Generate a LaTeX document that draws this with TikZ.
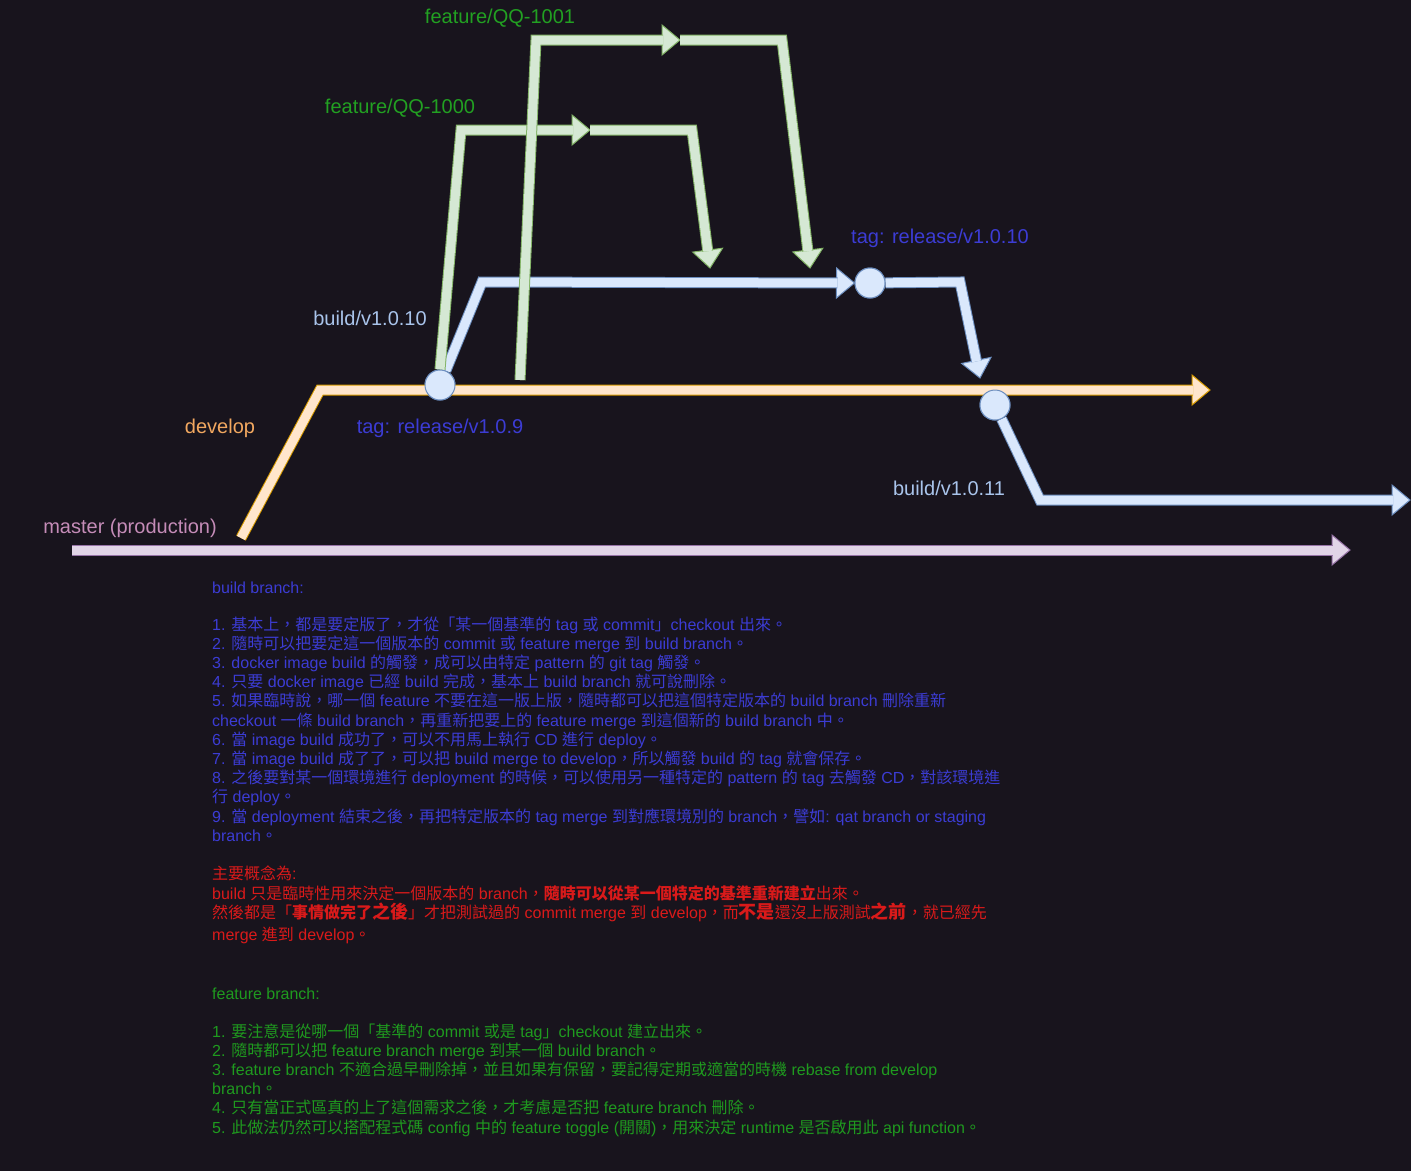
\documentclass[tikz,border=0pt]{standalone}
\usepackage{fontspec}
\setmainfont{Liberation Sans}
\newfontfamily\cjk{Noto Sans CJK TC}
\usetikzlibrary{calc}
% automatic switch to the CJK font for CJK characters
\newXeTeXintercharclass\cjkclass
\newcount\cjkc
\cjkc="4E00 \loop \XeTeXcharclass\cjkc=\cjkclass \advance\cjkc by 1 \ifnum\cjkc<"A000 \repeat
\cjkc="3000 \loop \XeTeXcharclass\cjkc=\cjkclass \advance\cjkc by 1 \ifnum\cjkc<"3040 \repeat
\cjkc="FF00 \loop \XeTeXcharclass\cjkc=\cjkclass \advance\cjkc by 1 \ifnum\cjkc<"FFF0 \repeat
\XeTeXinterchartoks 0 \cjkclass = {\cjk}
\XeTeXinterchartoks 4095 \cjkclass = {\cjk}
\XeTeXinterchartoks \cjkclass 0 = {\rmfamily}
\XeTeXinterchartoks \cjkclass 4095 = {\rmfamily}
\XeTeXinterchartokenstate=1
\definecolor{bgc}{HTML}{18141D}
\definecolor{mfill}{HTML}{E1D5E7}\definecolor{mline}{HTML}{9673A6}
\definecolor{dfill}{HTML}{FFE6CC}\definecolor{dline}{HTML}{D79B00}
\definecolor{bfill}{HTML}{DAE8FC}\definecolor{bline}{HTML}{6C8EBF}
\definecolor{ffill}{HTML}{D5E8D4}\definecolor{fline}{HTML}{82B366}
\definecolor{tblue}{HTML}{3C3CD4}
\definecolor{tred}{HTML}{DA1A1A}
\definecolor{tgreen}{HTML}{1F9A1F}
\definecolor{lgreen}{HTML}{22A022}
\definecolor{lblue}{HTML}{A9C4EB}
\definecolor{lorange}{HTML}{F2A860}
\definecolor{lpink}{HTML}{C58CB8}
\newcommand\fhead[4]{%
  \path ($(#4)!18pt!(#3)$) coordinate (hb);
  \filldraw[fill=#1,draw=#2,line width=1pt,line join=miter]
    ($(hb)!15pt!90:(#4)$) -- (#4) -- ($(hb)!15pt!-90:(#4)$) -- cycle;
}
\newcommand\bigb[1]{{\bfseries\fontsize{18}{20}\selectfont #1}}
\begin{document}
\begin{tikzpicture}[x=1pt,y=-1pt,
  flex/.style 2 args={draw=#2,double=#1,line width=1pt,double distance=9pt,line join=miter,shorten >=17pt},
  tagdot/.style={circle,minimum size=30pt,inner sep=0pt,fill=bfill,draw=bline,line width=1pt},
  lbl/.style={inner sep=0pt,font=\fontsize{20}{24}\selectfont},
  txt/.style={anchor=base west,inner sep=0pt,font=\fontsize{16}{19}\selectfont}]
\useasboundingbox (0,0) rectangle (1411,1171);
\fill[bgc] (0,0) rectangle (1411,1171);
% nodes and coordinates
\node[tagdot] (t9) at (440,385) {};
\node[tagdot] (t10) at (870,283) {};
\node[tagdot] (t11) at (995,405) {};
\coordinate (m0) at (72,550);
\coordinate (m1) at (1350,550);
\coordinate (d0) at (241,538);
\coordinate (d1) at (320,390);
\coordinate (d2) at (1210,390);
\coordinate (b1) at (482,282);
\coordinate (b2) at (960,282);
\coordinate (b3) at (980,378);
\coordinate (c1) at (1040,500);
\coordinate (c2) at (1410,500);
\coordinate (fa1) at (461,130);
\coordinate (fa2) at (590,130);
\coordinate (fa3) at (692,130);
\coordinate (fa4) at (710,268);
\coordinate (fb0) at (520,380);
\coordinate (fb1) at (536,40);
\coordinate (fb2) at (680,40);
\coordinate (fb3) at (782,40);
\coordinate (fb4) at (810,268);
% master
\fhead{mfill}{mline}{m0}{m1}
\draw[flex={mfill}{mline}] (m0) -- (m1);
% develop
\fhead{dfill}{dline}{d1}{d2}
\draw[flex={dfill}{dline}] (d0) -- (d1) -- (d2);
% build/v1.0.10
\fhead{bfill}{bline}{b1}{t10.west}
\draw[flex={bfill}{bline}] (t9) -- (b1) -- (t10.west);
\fhead{bfill}{bline}{b2}{b3}
\draw[flex={bfill}{bline}] (t10) -- (b2) -- (b3);
% build/v1.0.11
\fhead{bfill}{bline}{c1}{c2}
\draw[flex={bfill}{bline}] (t11) -- (c1) -- (c2);
% feature/QQ-1000
\fhead{ffill}{fline}{fa1}{fa2}
\draw[flex={ffill}{fline}] (t9.north) -- (fa1) -- (fa2);
\fhead{ffill}{fline}{fa3}{fa4}
\draw[flex={ffill}{fline}] (fa2) -- (fa3) -- (fa4);
% feature/QQ-1001
\fhead{ffill}{fline}{fb1}{fb2}
\draw[flex={ffill}{fline}] (fb0) -- (fb1) -- (fb2);
\fhead{ffill}{fline}{fb3}{fb4}
\draw[flex={ffill}{fline}] (fb2) -- (fb3) -- (fb4);
% dots on top
\node[tagdot] at (t9) {};
\node[tagdot] at (t10) {};
\node[tagdot] at (t11) {};
% labels
\node[lbl,text=lgreen] (lq1) at (500,18) {feature/QQ-1001};
\node[lbl,text=lgreen] (lq0) at (400,108) {feature/QQ-1000};
\node[lbl,text=lblue] (lb10) at (370,318) {build/v1.0.10};
\node[lbl,text=lorange] (ldev) at (220,428) {develop};
\node[lbl,text=tblue] (lt9) at (440,428) {tag: release/v1.0.9};
\node[lbl,text=tblue] (lt10) at (940,238) {tag: release/v1.0.10};
\node[lbl,text=lblue] (lb11) at (949,488) {build/v1.0.11};
\node[lbl,text=lpink] (lmas) at (130,528) {master (production)};
% build branch text
\begin{scope}[every node/.append style={txt,text=tblue}]
\node (tb0) at (212,593) {build branch:};
\node (tb1) at (212,630) {1. 基本上，都是要定版了，才從「某一個基準的 tag 或 commit」checkout 出來。};
\node (tb2) at (212,649.2) {2. 隨時可以把要定這一個版本的 commit 或 feature merge 到 build branch。};
\node (tb3) at (212,668.4) {3. docker image build 的觸發，成可以由特定 pattern 的 git tag 觸發。};
\node (tb4) at (212,687.6) {4. 只要 docker image 已經 build 完成，基本上 build branch 就可說刪除。};
\node (tb5) at (212,706.8) {5. 如果臨時說，哪一個 feature 不要在這一版上版，隨時都可以把這個特定版本的 build branch 刪除重新};
\node (tb6) at (212,726) {checkout 一條 build branch，再重新把要上的 feature merge 到這個新的 build branch 中。};
\node (tb7) at (212,745.2) {6. 當 image build 成功了，可以不用馬上執行 CD 進行 deploy。};
\node (tb8) at (212,764.4) {7. 當 image build 成了了，可以把 build merge to develop，所以觸發 build 的 tag 就會保存。};
\node (tb9) at (212,783.6) {8. 之後要對某一個環境進行 deployment 的時候，可以使用另一種特定的 pattern 的 tag 去觸發 CD，對該環境進};
\node (tb10) at (212,802.8) {行 deploy。};
\node (tb11) at (212,822) {9. 當 deployment 結束之後，再把特定版本的 tag merge 到對應環境別的 branch，譬如: qat branch or staging};
\node (tb12) at (212,841.2) {branch。};
\end{scope}
% main concept text
\begin{scope}[every node/.append style={txt,text=tred}]
\node (tr0) at (212,879) {主要概念為:};
\node (tr1) at (212,899) {build 只是臨時性用來決定一個版本的 branch，{\bfseries 隨時可以從某一個特定的基準重新建立}出來。};
\node (tr2) at (212,918) {然後都是「{\bfseries 事情做完了}\bigb{之後}」才把測試過的 commit merge 到 develop，而\bigb{不是}還沒上版測試\bigb{之前}，就已經先};
\node (tr3) at (212,940) {merge 進到 develop。};
\end{scope}
% feature branch text
\begin{scope}[every node/.append style={txt,text=tgreen}]
\node (tg0) at (212,999) {feature branch:};
\node (tg1) at (212,1037) {1. 要注意是從哪一個「基準的 commit 或是 tag」checkout 建立出來。};
\node (tg2) at (212,1056.2) {2. 隨時都可以把 feature branch merge 到某一個 build branch。};
\node (tg3) at (212,1075.4) {3. feature branch 不適合過早刪除掉，並且如果有保留，要記得定期或適當的時機 rebase from develop};
\node (tg4) at (212,1094.6) {branch。};
\node (tg5) at (212,1113.8) {4. 只有當正式區真的上了這個需求之後，才考慮是否把 feature branch 刪除。};
\node (tg6) at (212,1133) {5. 此做法仍然可以搭配程式碼 config 中的 feature toggle (開關)，用來決定 runtime 是否啟用此 api function。};
\end{scope}
\end{tikzpicture}
\end{document}
